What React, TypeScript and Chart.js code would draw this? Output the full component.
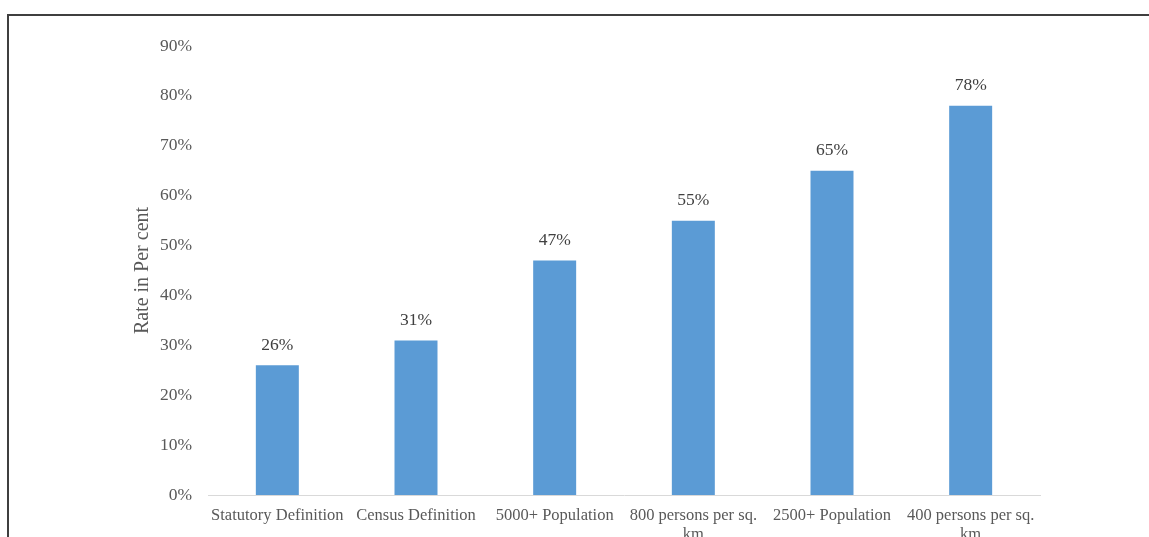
import React, { useEffect, useRef } from "react";
import { Chart, registerables } from "chart.js";

Chart.register(...registerables);

const categories: (string | string[])[] = [
  "Statutory Definition",
  "Census Definition",
  "5000+ Population",
  ["800 persons per sq.", "km"],
  "2500+ Population",
  ["400 persons per sq.", "km"],
];
const rates = [0.26, 0.31, 0.47, 0.55, 0.65, 0.78];
const yTicks = [0, 0.1, 0.2, 0.3, 0.4, 0.5, 0.6, 0.7, 0.8, 0.9];
const yTitle = "Rate in Per cent";

const FONT = "'Liberation Serif', 'DejaVu Serif', serif";
const PAD_LEFT = 127;

const valueLabels = {
  id: "valueLabels",
  afterDatasetsDraw(chart: any) {
    const ctx = chart.ctx;
    const meta = chart.getDatasetMeta(0);
    ctx.save();
    ctx.font = `17.5px ${FONT}`;
    ctx.fillStyle = "#404040";
    ctx.textAlign = "center";
    ctx.textBaseline = "middle";
    meta.data.forEach((bar: any, i: number) => {
      ctx.fillText(Math.round(rates[i] * 100) + "%", bar.x, bar.y - 20);
    });
    ctx.restore();
  },
};

export default function App() {
  const ref = useRef<HTMLCanvasElement>(null);
  useEffect(() => {
    if (!ref.current) return;
    const chart = new Chart(ref.current, {
      type: "bar",
      data: {
        labels: categories,
        datasets: [
          {
            data: rates,
            backgroundColor: "#5B9BD5",
            borderWidth: 0,
            barPercentage: 0.31,
            categoryPercentage: 1,
          },
        ],
      },
      plugins: [valueLabels],
      options: {
        animation: false,
        responsive: false,
        maintainAspectRatio: false,
        layout: { padding: { left: PAD_LEFT, right: 109, top: 46, bottom: 5 } },
        plugins: { legend: { display: false }, tooltip: { enabled: false } },
        scales: {
          x: {
            grid: { display: false, drawTicks: false },
            border: { display: true, color: "#D9D9D9", width: 1 },
            ticks: {
              color: "#595959",
              font: { family: FONT, size: 16.5, lineHeight: 1.15 },
              padding: 11,
              maxRotation: 0,
              minRotation: 0,
              autoSkip: false,
            },
          },
          y: {
            min: 0,
            max: 0.9,
            afterBuildTicks(scale: any) {
              scale.ticks = yTicks.map((v) => ({ value: v }));
            },
            grid: { display: false, drawTicks: false },
            border: { display: false },
            title: {
              display: true,
              text: yTitle,
              color: "#595959",
              font: { family: FONT, size: 20 },
              padding: 4,
            },
            ticks: {
              color: "#595959",
              font: { family: FONT, size: 17.5 },
              padding: 16,
              callback: (v: any) => Math.round(Number(v) * 100) + "%",
            },
            afterFit(scale: any) {
              scale.width = 208 - PAD_LEFT;
            },
          },
        },
      },
    });
    return () => chart.destroy();
  }, []);

  return (
    <>
      <div
        style={{
          position: "fixed",
          left: 7,
          top: 14,
          width: 1300,
          height: 700,
          borderTop: "2px solid #3f3f3f",
          borderLeft: "2px solid #3f3f3f",
          boxSizing: "border-box",
        }}
      />
      <canvas
        ref={ref}
        width={1149}
        height={560}
        style={{ position: "fixed", left: 0, top: 0, width: 1149, height: 560 }}
      />
    </>
  );
}
